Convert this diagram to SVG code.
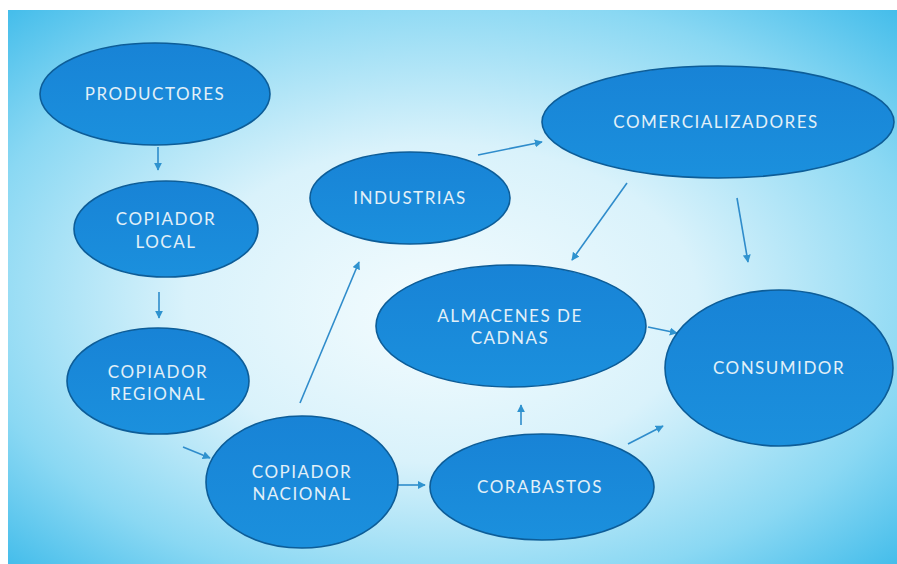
<svg xmlns="http://www.w3.org/2000/svg" width="897" height="564" viewBox="0 0 897 564">
<defs>
<radialGradient id="bg" cx="0.5" cy="0.5" r="0.72" fx="0.48" fy="0.55">
<stop offset="0" stop-color="#f4fcfe"/>
<stop offset="0.4" stop-color="#d9f2fb"/>
<stop offset="0.75" stop-color="#8ad8f3"/>
<stop offset="1" stop-color="#3fbbea"/>
</radialGradient>
<linearGradient id="nf" x1="0" y1="0" x2="0" y2="1">
<stop offset="0" stop-color="#1883d6"/>
<stop offset="1" stop-color="#1b90dd"/>
</linearGradient>
<marker id="ah" viewBox="0 0 10 10" refX="9" refY="5" markerWidth="5" markerHeight="5" orient="auto">
<path d="M0,0 L10,5 L0,10 z" fill="#2f93cf"/>
</marker>
<style>
.node ellipse{fill:url(#nf);stroke:#0d5d98;stroke-width:1.6}
.node text{font-family:Lato,"Open Sans","Liberation Sans",sans-serif;font-size:17px;fill:#e2f0f8;text-anchor:middle;letter-spacing:1.5px}
.conn line{stroke:#2f8ccb;stroke-width:1.6;marker-end:url(#ah)}
</style>
</defs>
<rect x="0" y="0" width="897" height="564" fill="#ffffff"/>
<rect x="8" y="10" width="889" height="554" fill="url(#bg)"/>
<g class="conn" id="connectors">
<line x1="158" y1="147" x2="158" y2="170"/>
<line x1="159" y1="292" x2="159" y2="318"/>
<line x1="183" y1="447" x2="210" y2="458"/>
<line x1="300" y1="403" x2="359" y2="262"/>
<line x1="398" y1="485" x2="425" y2="485"/>
<line x1="478" y1="155" x2="542" y2="142"/>
<line x1="627" y1="183" x2="572" y2="260"/>
<line x1="737" y1="198" x2="748" y2="262"/>
<line x1="648" y1="327" x2="677" y2="333"/>
<line x1="521" y1="425" x2="521" y2="405"/>
<line x1="628" y1="444" x2="663" y2="426"/>
</g>
<g class="node" id="productores"><ellipse cx="155" cy="94" rx="115" ry="51"/><text x="155" y="100">PRODUCTORES</text></g>
<g class="node" id="copiador-local"><ellipse cx="166" cy="229" rx="92" ry="48"/><text x="166" y="225">COPIADOR</text><text x="166" y="248">LOCAL</text></g>
<g class="node" id="copiador-regional"><ellipse cx="158" cy="381" rx="91" ry="53"/><text x="158" y="378">COPIADOR</text><text x="158" y="400">REGIONAL</text></g>
<g class="node" id="copiador-nacional"><ellipse cx="302" cy="482" rx="96" ry="66"/><text x="302" y="478">COPIADOR</text><text x="302" y="500">NACIONAL</text></g>
<g class="node" id="industrias"><ellipse cx="410" cy="198" rx="100" ry="46"/><text x="410" y="204">INDUSTRIAS</text></g>
<g class="node" id="comercializadores"><ellipse cx="718" cy="122" rx="176" ry="56"/><text x="716" y="128">COMERCIALIZADORES</text></g>
<g class="node" id="almacenes"><ellipse cx="511" cy="326" rx="135" ry="61"/><text x="510" y="322">ALMACENES DE</text><text x="510" y="344">CADNAS</text></g>
<g class="node" id="consumidor"><ellipse cx="779" cy="368" rx="114" ry="78"/><text x="779" y="374">CONSUMIDOR</text></g>
<g class="node" id="corabastos"><ellipse cx="542" cy="487" rx="112" ry="53"/><text x="540" y="493">CORABASTOS</text></g>
</svg>
